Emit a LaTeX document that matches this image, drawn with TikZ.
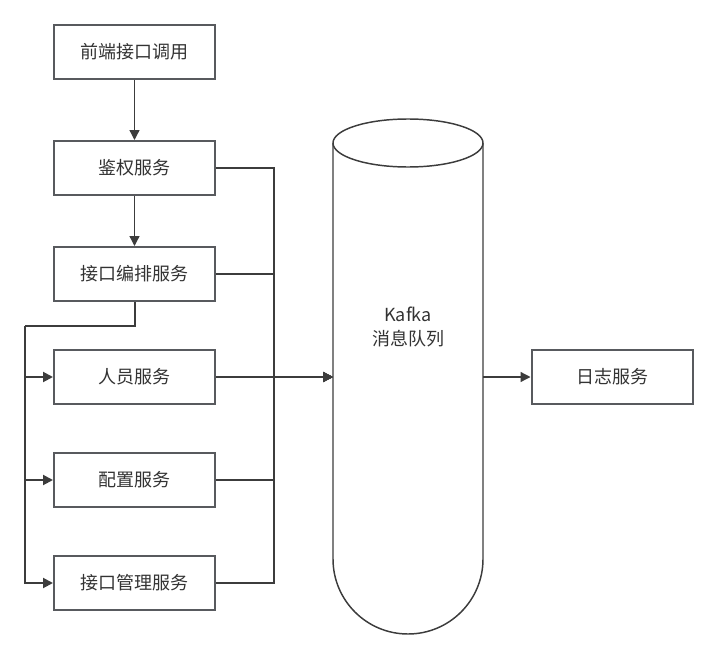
\documentclass[tikz,border=0pt]{standalone}
\usepackage{fontspec}
\newfontfamily\cjk{Noto Sans CJK SC}
\usetikzlibrary{arrows.meta}
\definecolor{boxline}{HTML}{585A5E}
\definecolor{wire}{HTML}{3C3C3C}
\definecolor{txt}{HTML}{333333}
\begin{document}
\begin{tikzpicture}[x=0.75pt, y=-0.75pt]
    \tikzstyle{service}=[rectangle, draw=boxline, line width=1.5pt, fill=white, minimum width=120.75pt, minimum height=40.5pt, text=txt, font=\cjk\fontsize{13.5}{17}\selectfont]
    \tikzstyle{arrow}=[draw=wire, line width=1pt, -{Triangle[length=7.5pt, width=7.5pt]}]
    \tikzstyle{wire}=[draw=wire, line width=1pt]
    \tikzstyle{cyl}=[draw=wire, line width=1.1pt]
    \useasboundingbox (0,0) rectangle (717,660);

    \node[service] (front)   at (134.5,52)  {前端接口调用};
    \node[service] (auth)    at (134.5,168) {鉴权服务};
    \node[service] (orch)    at (134.5,274) {接口编排服务};
    \node[service] (person)  at (134.5,377) {人员服务};
    \node[service] (config)  at (134.5,480) {配置服务};
    \node[service] (apimgmt) at (134.5,583) {接口管理服务};
    \node[service] (logsvc)  at (612,377)   {日志服务};

    % Kafka cylinder
    \draw[cyl] (333,143) -- (333,559)
               arc[start angle=180, end angle=0, x radius=75, y radius=75]
               -- (483,143);
    \draw[cyl] (408,143) ellipse[x radius=75, y radius=24];
    \node[text=txt, align=center, font=\cjk\fontsize{13.5}{17.5}\selectfont] (kafka) at (408,327) {Kafka\\消息队列};
    \coordinate (kafkaIn)  at (333,377);
    \coordinate (kafkaOut) at (483,377);

    \coordinate (busL) at (25,326);
    \coordinate (busR) at (274,377);

    \draw[arrow] (front) -- (auth);
    \draw[arrow] (auth) -- (orch);

    \draw[wire, line width=1.5pt] (orch.south) |- (busL);
    \draw[arrow, line width=1.5pt] (busL) |- (person.west);
    \draw[arrow, line width=1.5pt] (busL) |- (config.west);
    \draw[arrow, line width=1.5pt] (busL) |- (apimgmt.west);

    \draw[arrow] (auth.east)    -| (busR) -- (kafkaIn);
    \draw[arrow] (orch.east)    -| (busR) -- (kafkaIn);
    \draw[arrow] (person.east)  -- (kafkaIn);
    \draw[arrow] (config.east)  -| (busR) -- (kafkaIn);
    \draw[arrow] (apimgmt.east) -| (busR) -- (kafkaIn);

    \draw[arrow] (kafkaOut) -- (logsvc.west);
\end{tikzpicture}
\end{document}
